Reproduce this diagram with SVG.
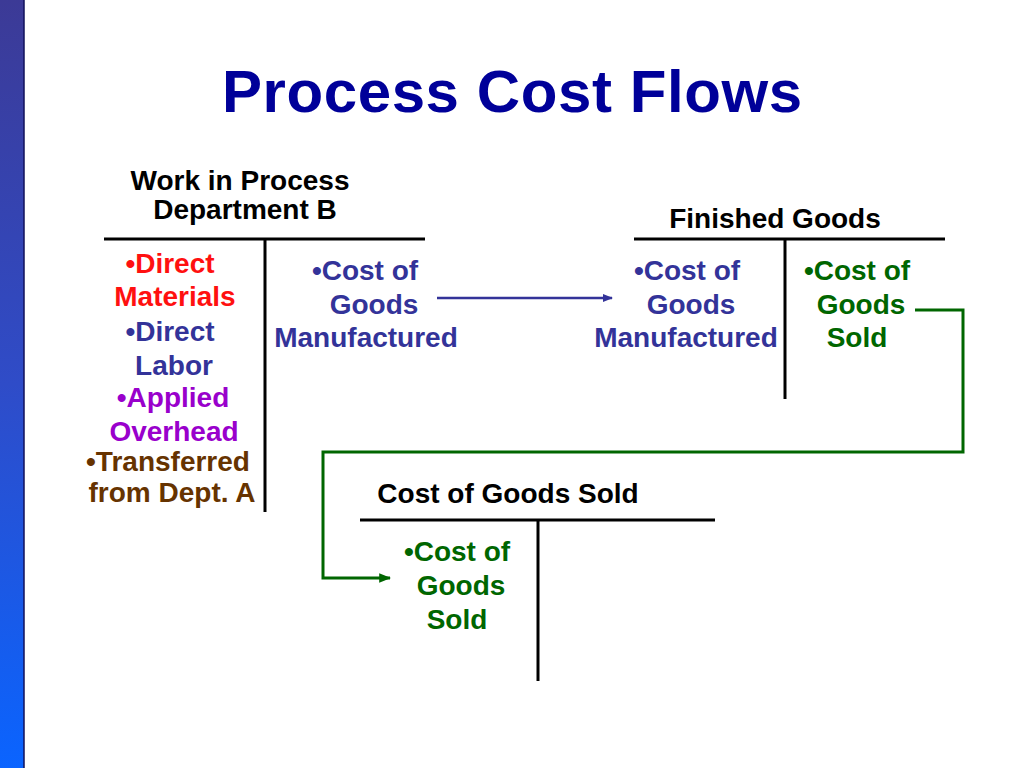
<svg xmlns="http://www.w3.org/2000/svg" width="1024" height="768" viewBox="0 0 1024 768">
<defs>
<linearGradient id="bar" x1="0" y1="0" x2="0" y2="1">
<stop offset="0" stop-color="#3C3A96"/>
<stop offset="0.5" stop-color="#2F4CC8"/>
<stop offset="1" stop-color="#0A64FF"/>
</linearGradient>
<marker id="ab" viewBox="0 0 10 10" refX="9" refY="5" markerWidth="4" markerHeight="4" orient="auto" markerUnits="strokeWidth"><path d="M0,1 L10,5 L0,9 z" fill="#333399"/></marker>
<marker id="ag" viewBox="0 0 10 10" refX="9" refY="5" markerWidth="4" markerHeight="4" orient="auto" markerUnits="strokeWidth"><path d="M0,1 L10,5 L0,9 z" fill="#006600"/></marker>
<style>
text{font-family:"Liberation Sans",Arial,sans-serif;font-weight:bold;font-size:28px;text-anchor:middle}
.t{stroke:#000;stroke-width:3;fill:none}
.hd{fill:#000}
.red{fill:#FF1010}
.nv{fill:#333399}
.pu{fill:#9900CC}
.br{fill:#663300}
.gr{fill:#006600}
</style>
</defs>
<rect x="0" y="0" width="24" height="768" fill="url(#bar)"/>
<line x1="24" y1="0" x2="24" y2="768" stroke="#10105A" stroke-width="1.5"/>
<text x="512" y="112" textLength="580" lengthAdjust="spacing" style="font-size:60px;fill:#000099">Process Cost Flows</text>

<g id="wip">
<text class="hd" x="240" y="190">Work in Process</text>
<text class="hd" x="245" y="219">Department B</text>
<line class="t" x1="104" y1="239" x2="425" y2="239"/>
<line class="t" x1="265" y1="239" x2="265" y2="512"/>
<text class="red" x="170" y="273">•Direct</text>
<text class="red" x="175" y="306">Materials</text>
<text class="nv" x="170" y="341">•Direct</text>
<text class="nv" x="174" y="375">Labor</text>
<text class="pu" x="173" y="407">•Applied</text>
<text class="pu" x="174" y="441">Overhead</text>
<text class="br" x="168" y="471">•Transferred</text>
<text class="br" x="172" y="502">from Dept. A</text>
<text class="nv" x="365" y="280">•Cost of</text>
<text class="nv" x="374" y="314">Goods</text>
<text class="nv" x="366" y="347">Manufactured</text>
</g>

<g id="fg">
<text class="hd" x="775" y="228">Finished Goods</text>
<line class="t" x1="634" y1="239" x2="945" y2="239"/>
<line class="t" x1="785" y1="239" x2="785" y2="399"/>
<text class="nv" x="687" y="280">•Cost of</text>
<text class="nv" x="691" y="314">Goods</text>
<text class="nv" x="686" y="347">Manufactured</text>
<text class="gr" x="857" y="280">•Cost of</text>
<text class="gr" x="861" y="314">Goods</text>
<text class="gr" x="857" y="347">Sold</text>
</g>

<g id="cogs">
<text class="hd" x="508" y="503">Cost of Goods Sold</text>
<line class="t" x1="360" y1="520" x2="715" y2="520"/>
<line class="t" x1="538" y1="520" x2="538" y2="681"/>
<text class="gr" x="457" y="561">•Cost of</text>
<text class="gr" x="461" y="595">Goods</text>
<text class="gr" x="457" y="629">Sold</text>
</g>

<g id="connectors">
<line x1="437" y1="298" x2="612" y2="298" stroke="#333399" stroke-width="2.5" marker-end="url(#ab)"/>
<polyline points="915,310 963,310 963,452 323,452 323,578 390,578" fill="none" stroke="#006600" stroke-width="3" marker-end="url(#ag)"/>
</g>
</svg>
